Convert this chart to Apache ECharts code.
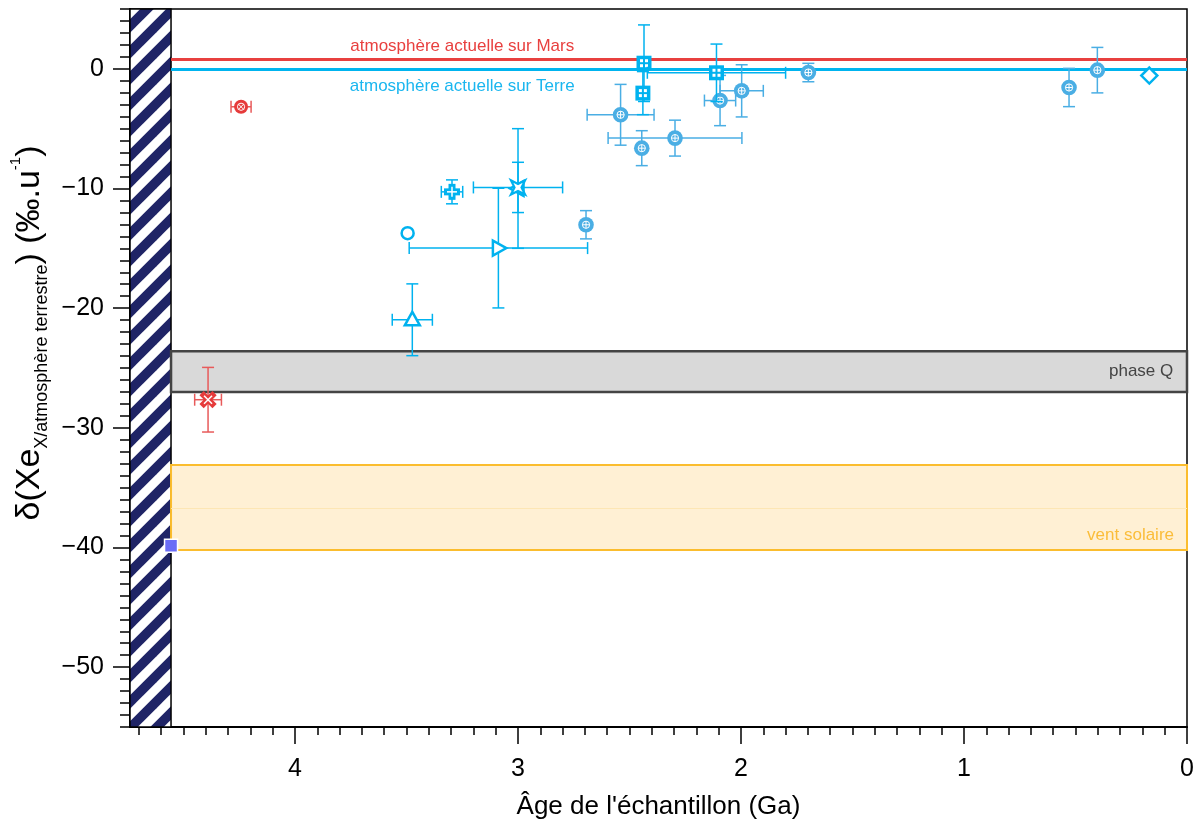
<!DOCTYPE html>
<html><head><meta charset="utf-8">
<script src="https://cdn.jsdelivr.net/npm/echarts@6/dist/echarts.min.js"></script>
<style>html,body{margin:0;padding:0;background:#fff}#c{width:1198px;height:825px}</style>
</head><body><div id="c"></div>
<script>
// ---------- axes ----------
const xMin = 0, xMax = 4.74, yMin = -55, yMax = 5;
const xMajorTicks = [0, 1, 2, 3, 4];
const yMajorTicks = [-50, -40, -30, -20, -10, 0];
const xMinorTicks = []; for (let i = 0; i <= 47; i++) xMinorTicks.push(+(i * 0.1).toFixed(1));
const yMinorTicks = []; for (let v = -55; v <= 5; v++) yMinorTicks.push(v);

// ---------- reference zones ----------
const hatchAge = [4.74, 4.556];
const refLineNames = ['atmosphère actuelle sur Mars', 'atmosphère actuelle sur Terre'];
const refLineDelta = [0.8, 0];
const refLabelAge = [3.25, 3.25];
const bandNames = ['phase Q', 'vent solaire'];
const bandTop = [-23.6, -33.1];
const bandBottom = [-27.0, -40.2];
const solarMeanDelta = -36.7;
const solarPointAge = [4.556];
const solarPointDelta = [-39.85];

// ---------- samples ----------
// circled-plus (light blue)
const cpAge      = [2.54, 2.445, 2.296, 2.094, 1.997, 1.698, 2.695, 0.529, 0.402];
const cpDelta    = [-3.84, -6.63, -5.79, -2.65, -1.84, -0.31, -13.03, -1.56, -0.11];
const cpAgeErr   = [0.15, 0, 0.30, 0.07, 0.097, 0, 0, 0, 0];
const cpDeltaErr = [2.54, 1.46, 1.5, 2.1, 2.18, 0.77, 1.18, 1.6, 1.9];
// gridded squares (cyan)
const sqAge      = [2.435, 2.44, 2.11];
const sqDelta    = [0.47, -2.03, -0.33];
const sqAgeErr   = [0, 0, 0.31];
const sqDeltaErr = [3.2, 1.8, 2.4];
// other cyan samples
const plusAge = [3.296], plusDelta = [-10.28], plusAgeErr = [0.048], plusDeltaErr = [1.0];
const starAge = [3.0], starDelta = [-9.91], starAgeErr = [0.2], starDeltaErr = [2.1];
const triLAge = [3.0], triLDelta = [-10.0], triLAgeErr = [0], triLDeltaErr = [5.0];
const triRAge = [3.088], triRDelta = [-14.98], triRAgeErr = [0.4], triRDeltaErr = [5.0];
const oCircAge = [3.495], oCircDelta = [-13.73];
const triUAge = [3.474], triUDelta = [-20.97], triUAgeErr = [0.09], triUDeltaErr = [3.0];
const diaAge = [0.169], diaDelta = [-0.56];
// red samples
const rCircAge = [4.242], rCircDelta = [-3.17], rCircAgeErr = [0.045];
const rXAge = [4.39], rXDelta = [-27.65], rXAgeErr = [0.06], rXDeltaErr = [2.7];

// ---------- colours ----------
const CYAN = '#00b2ef', LBLUE = '#4aaee4', RED = '#e63b3b', NAVY = '#1f2466';
const FONT = "'Liberation Sans', Arial, sans-serif";

// hatch pattern
const pc = document.createElement('canvas');
const S = 26; pc.width = S; pc.height = S;
const g = pc.getContext('2d');
g.fillStyle = '#fff'; g.fillRect(0, 0, S, S);
g.strokeStyle = NAVY; g.lineWidth = 9.5;
[-S, 0, S].forEach(k => { g.beginPath(); g.moveTo(k - 6, S + 6); g.lineTo(k + S + 6, -6); g.stroke(); });

function markerEls(kind, p, col) {
  const x = p[0], y = p[1], W = '#fff';
  const L = (x1, y1, x2, y2, c, w) => ({ type: 'line', shape: { x1, y1, x2, y2 }, style: { stroke: c, lineWidth: w } });
  switch (kind) {
    case 'cplus': return [
      { type: 'circle', shape: { cx: x, cy: y, r: 7.8 }, style: { fill: col } },
      { type: 'circle', shape: { cx: x, cy: y, r: 3.6 }, style: { fill: 'none', stroke: W, lineWidth: 1 } },
      L(x - 3.6, y, x + 3.6, y, W, 1), L(x, y - 3.6, x, y + 3.6, W, 1)];
    case 'sqgrid': return [
      { type: 'rect', shape: { x: x - 7.5, y: y - 7.5, width: 15, height: 15 }, style: { fill: col } },
      ...[[-4, -4], [1, -4], [-4, 1], [1, 1]].map(o => ({ type: 'rect', shape: { x: x + o[0], y: y + o[1], width: 3, height: 3 }, style: { fill: W } }))];
    case 'rcross': return [
      { type: 'circle', shape: { cx: x, cy: y, r: 7 }, style: { fill: col } },
      { type: 'circle', shape: { cx: x, cy: y, r: 3.6 }, style: { fill: 'none', stroke: W, lineWidth: 1 } },
      L(x - 2.6, y - 2.6, x + 2.6, y + 2.6, W, 1), L(x - 2.6, y + 2.6, x + 2.6, y - 2.6, W, 1)];
    case 'xmark': return [
      L(x - 6.5, y - 6.5, x + 6.5, y + 6.5, col, 6), L(x - 6.5, y + 6.5, x + 6.5, y - 6.5, col, 6),
      L(x - 4, y - 4, x + 4, y + 4, W, 1.5), L(x - 4, y + 4, x + 4, y - 4, W, 1.5)];
    case 'plus': return [
      L(x - 8, y, x + 8, y, col, 7), L(x, y - 8, x, y + 8, col, 7),
      L(x - 5, y, x + 5, y, W, 1.5), L(x, y - 5, x, y + 5, W, 1.5)];
    case 'ocircle': return [{ type: 'circle', shape: { cx: x, cy: y, r: 6 }, style: { fill: W, stroke: col, lineWidth: 2.5 } }];
    case 'triU': return [{ type: 'polygon', shape: { points: [[x, y - 8], [x + 7.5, y + 5.5], [x - 7.5, y + 5.5]] }, style: { fill: W, stroke: col, lineWidth: 2.5 } }];
    case 'triR': return [{ type: 'polygon', shape: { points: [[x + 8, y], [x - 5.5, y - 7.5], [x - 5.5, y + 7.5]] }, style: { fill: W, stroke: col, lineWidth: 2.5 } }];
    case 'triL': return [{ type: 'polygon', shape: { points: [[x - 8, y], [x + 5.5, y - 7.5], [x + 5.5, y + 7.5]] }, style: { fill: W, stroke: col, lineWidth: 2.5 } }];
    case 'diamond': return [{ type: 'polygon', shape: { points: [[x, y - 8], [x + 8, y], [x, y + 8], [x - 8, y]] }, style: { fill: W, stroke: col, lineWidth: 2.5 } }];
    case 'star4': {
      const pts = [];
      for (let i = 0; i < 8; i++) {
        const a = Math.PI / 4 + i * Math.PI / 4, r = i % 2 === 0 ? 10 : 3.5;
        pts.push([x + r * Math.cos(a), y + r * Math.sin(a)]);
      }
      return [{ type: 'polygon', shape: { points: pts }, style: { fill: W, stroke: col, lineWidth: 2.2 } }];
    }
    case 'solar': return [{ type: 'rect', shape: { x: x - 6.5, y: y - 6.5, width: 13, height: 13 }, style: { fill: '#6a6cf6', stroke: W, lineWidth: 1.5 } }];
  }
  return [];
}

function sampleSeries(kind, color, barColor, ages, deltas, ageErr, deltaErr) {
  return {
    type: 'custom', xAxisIndex: 0, yAxisIndex: 0, z: 5, silent: true,
    data: ages.map((a, i) => [a, deltas[i], ageErr ? ageErr[i] : 0, deltaErr ? deltaErr[i] : 0]),
    renderItem(params, api) {
      const x = api.value(0), y = api.value(1), xe = api.value(2), ye = api.value(3);
      const c = api.coord([x, y]);
      const ch = [];
      const ls = { stroke: barColor, lineWidth: 1.5 };
      const cap = 6;
      if (ye > 0) {
        const t = api.coord([x, y + ye]), b = api.coord([x, y - ye]);
        ch.push({ type: 'line', shape: { x1: c[0], y1: t[1], x2: c[0], y2: b[1] }, style: ls });
        ch.push({ type: 'line', shape: { x1: c[0] - cap, y1: t[1], x2: c[0] + cap, y2: t[1] }, style: ls });
        ch.push({ type: 'line', shape: { x1: c[0] - cap, y1: b[1], x2: c[0] + cap, y2: b[1] }, style: ls });
      }
      if (xe > 0) {
        const l = api.coord([x + xe, y]), r = api.coord([x - xe, y]);
        ch.push({ type: 'line', shape: { x1: l[0], y1: c[1], x2: r[0], y2: c[1] }, style: ls });
        ch.push({ type: 'line', shape: { x1: l[0], y1: c[1] - cap, x2: l[0], y2: c[1] + cap }, style: ls });
        ch.push({ type: 'line', shape: { x1: r[0], y1: c[1] - cap, x2: r[0], y2: c[1] + cap }, style: ls });
      }
      return { type: 'group', children: ch.concat(markerEls(kind, c, color)) };
    }
  };
}

const labelSeries = {
  type: 'custom', xAxisIndex: 0, yAxisIndex: 0, z: 4, silent: true,
  data: refLineNames.map((n, i) => [refLabelAge[i], refLineDelta[i], i]),
  renderItem(params, api) {
    const i = api.value(2);
    const c = api.coord([api.value(0), api.value(1)]);
    return {
      type: 'text', x: c[0], y: c[1] + (i === 0 ? -12.5 : 17),
      style: { text: refLineNames[i], fill: i === 0 ? '#e8403f' : '#1ab6ef', font: '17px ' + FONT, align: 'center', verticalAlign: 'middle' }
    };
  }
};

const bgSeries = {
  type: 'line', data: [], xAxisIndex: 0, yAxisIndex: 0, z: 1, silent: true,
  markArea: {
    silent: true,
    data: [
      [{ xAxis: hatchAge[0], yAxis: yMax, itemStyle: { color: { image: pc, repeat: 'repeat' }, borderColor: '#000', borderWidth: 1.5 }, label: { show: false } },
       { xAxis: hatchAge[1], yAxis: yMin }],
      [{ xAxis: hatchAge[1], yAxis: bandTop[0], name: bandNames[0],
         itemStyle: { color: '#d9d9d9', borderColor: '#444', borderWidth: 2.5 },
         label: { show: true, position: 'insideRight', distance: 15, color: '#444', fontSize: 17, fontFamily: FONT } },
       { xAxis: xMin, yAxis: bandBottom[0] }],
      [{ xAxis: hatchAge[1], yAxis: bandTop[1], name: bandNames[1],
         itemStyle: { color: '#fff0d4', borderColor: '#fbbd2e', borderWidth: 2 },
         label: { show: true, position: 'insideBottomRight', distance: 14, offset: [0, 7], color: '#fbbd3a', fontSize: 17, fontFamily: FONT } },
       { xAxis: xMin, yAxis: bandBottom[1] }]
    ]
  },
  markLine: {
    silent: true, symbol: 'none', label: { show: false },
    data: [
      [{ coord: [hatchAge[1], refLineDelta[0]], lineStyle: { color: '#e8403f', width: 3, type: 'solid' } }, { coord: [xMin, refLineDelta[0]] }],
      [{ coord: [hatchAge[1], refLineDelta[1]], lineStyle: { color: '#00b4ef', width: 3, type: 'solid' } }, { coord: [xMin, refLineDelta[1]] }],
      [{ coord: [hatchAge[1], solarMeanDelta], lineStyle: { color: '#fde6b4', width: 1, type: 'solid' } }, { coord: [xMin, solarMeanDelta] }]
    ]
  }
};

const chart = echarts.init(document.getElementById('c'));
chart.setOption({
  animation: false,
  backgroundColor: '#fff',
  grid: { left: 130, right: 11, top: 9, bottom: 98, show: true, borderColor: '#000', borderWidth: 1.5, backgroundColor: '#fff' },
  xAxis: [
    { type: 'value', min: xMin, max: xMax, inverse: true, position: 'bottom',
      axisLine: { show: true, onZero: false, lineStyle: { color: '#000', width: 2 } },
      axisTick: { show: true, customValues: xMajorTicks, length: 17, lineStyle: { color: '#000', width: 1.5 } },
      axisLabel: { customValues: xMajorTicks, fontSize: 25, color: '#000', fontFamily: FONT, margin: 30 },
      splitLine: { show: false },
      name: "Âge de l'échantillon (Ga)", nameLocation: 'middle', nameGap: 67,
      nameTextStyle: { fontSize: 26, color: '#000', fontFamily: FONT } },
    { type: 'value', min: xMin, max: xMax, inverse: true, position: 'bottom',
      axisLine: { show: false, onZero: false },
      axisTick: { show: true, customValues: xMinorTicks, length: 8, lineStyle: { color: '#000', width: 1.5 } },
      axisLabel: { show: false }, splitLine: { show: false } }
  ],
  yAxis: [
    { type: 'value', min: yMin, max: yMax, position: 'left',
      axisLine: { show: true, onZero: false, lineStyle: { color: '#000', width: 2 } },
      axisTick: { show: true, customValues: yMajorTicks, length: 17, lineStyle: { color: '#000', width: 1.5 } },
      axisLabel: { customValues: yMajorTicks, fontSize: 25, color: '#000', fontFamily: FONT, margin: 26,
                   formatter: v => String(v).replace('-', '\u2212') },
      splitLine: { show: false },
      name: '{m|δ(Xe}{s|X/atmosphère terrestre}{m|) (‰.u}{p|-1}{m|)}',
      nameLocation: 'middle', nameGap: 70, nameRotate: 90,
      nameTextStyle: { padding: [0, 0, 0, 70], rich: {
        m: { fontSize: 34, color: '#000', fontFamily: FONT, lineHeight: 42, verticalAlign: 'middle' },
        s: { fontSize: 18, color: '#000', fontFamily: FONT, lineHeight: 42, verticalAlign: 'bottom' },
        p: { fontSize: 15, color: '#000', fontFamily: FONT, lineHeight: 42, verticalAlign: 'top' } } } },
    { type: 'value', min: yMin, max: yMax, position: 'left',
      axisLine: { show: false, onZero: false },
      axisTick: { show: true, customValues: yMinorTicks, length: 10, lineStyle: { color: '#000', width: 1.5 } },
      axisLabel: { show: false }, splitLine: { show: false } }
  ],
  series: [
    bgSeries,
    labelSeries,
    sampleSeries('cplus', LBLUE, LBLUE, cpAge, cpDelta, cpAgeErr, cpDeltaErr),
    sampleSeries('sqgrid', CYAN, CYAN, sqAge, sqDelta, sqAgeErr, sqDeltaErr),
    sampleSeries('plus', CYAN, CYAN, plusAge, plusDelta, plusAgeErr, plusDeltaErr),
    sampleSeries('triL', CYAN, CYAN, triLAge, triLDelta, triLAgeErr, triLDeltaErr),
    sampleSeries('star4', CYAN, CYAN, starAge, starDelta, starAgeErr, starDeltaErr),
    sampleSeries('triR', CYAN, CYAN, triRAge, triRDelta, triRAgeErr, triRDeltaErr),
    sampleSeries('ocircle', CYAN, CYAN, oCircAge, oCircDelta),
    sampleSeries('triU', CYAN, CYAN, triUAge, triUDelta, triUAgeErr, triUDeltaErr),
    sampleSeries('diamond', CYAN, CYAN, diaAge, diaDelta),
    sampleSeries('rcross', RED, '#e85a5a', rCircAge, rCircDelta, rCircAgeErr),
    sampleSeries('xmark', RED, '#e85a5a', rXAge, rXDelta, rXAgeErr, rXDeltaErr),
    sampleSeries('solar', '#6a6cf6', '#6a6cf6', solarPointAge, solarPointDelta)
  ]
});
</script></body></html>
